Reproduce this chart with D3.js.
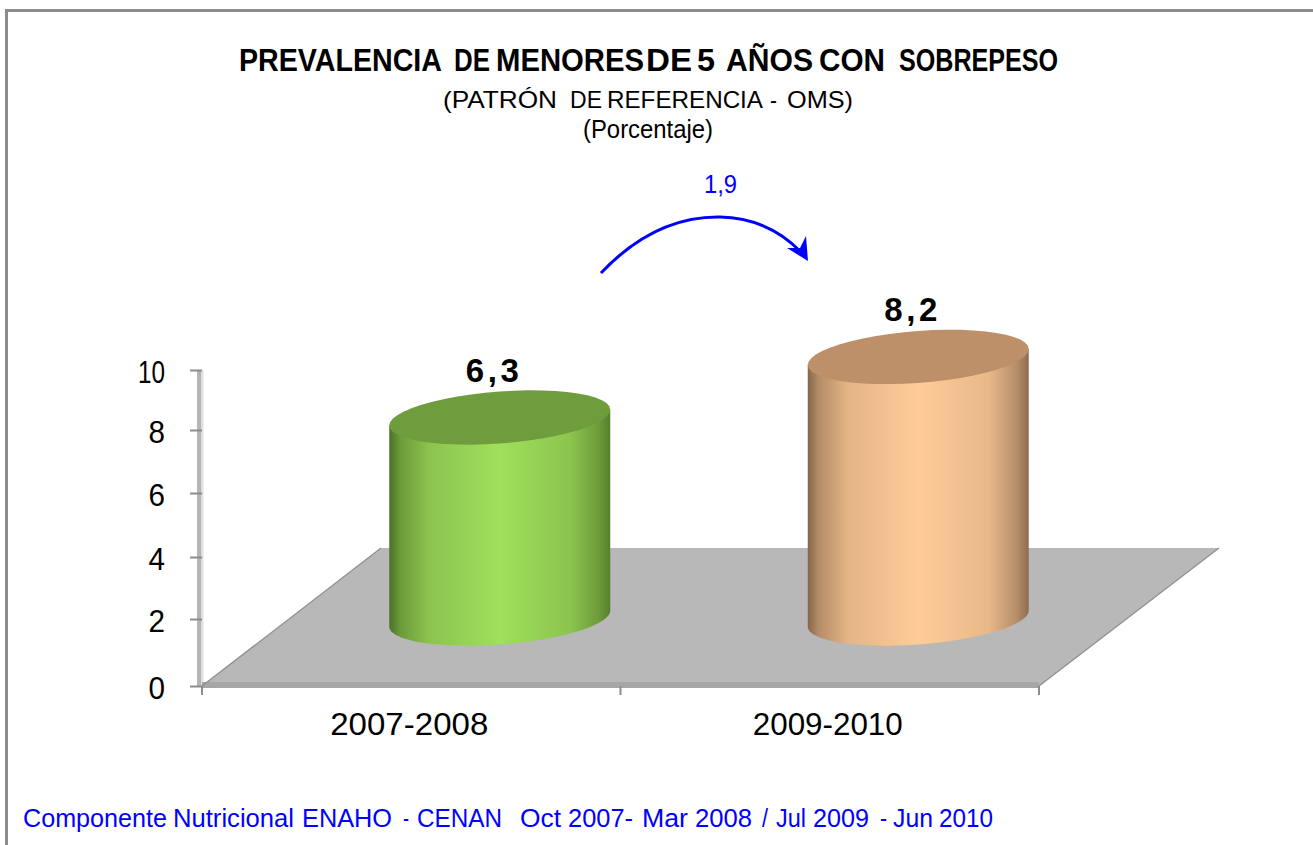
<!DOCTYPE html>
<html><head><meta charset="utf-8">
<script src="https://cdn.jsdelivr.net/npm/d3@7/dist/d3.min.js"></script>
<style>html,body{margin:0;padding:0;background:#fff;overflow:hidden}svg{display:block}text{font-family:"Liberation Sans",Arial,sans-serif}</style>
</head><body><svg id="c" width="1313" height="845"></svg>
<script>
const categories = ["2007-2008", "2009-2010"];
const values = [6.3, 8.2];
const valueLabels = ["6,3", "8,2"];
const yTicks = [0, 2, 4, 6, 8, 10];
const changeLabel = "1,9";
const titleMain = ["PREVALENCIA","DE","MENORES","DE","5","AÑOS","CON","SOBREPESO"];
const titleSub = ["(PATRÓN","DE","REFERENCIA","-","OMS)"];
const titleUnit = ["(Porcentaje)"];
const sourceNote = ["Componente","Nutricional","ENAHO","-","CENAN","Oct","2007-","Mar","2008","/","Jul","2009","-","Jun","2010"];
const bodyColors = [
  ["#4c7228","#6c9a3a","#8cc44e","#9fe05c","#8cc44e","#6c9a3a","#55802c"],
  ["#86664a","#b48c68","#e4b484","#ffcc99","#e8b888","#b48c68","#8c6c4e"]
];
const capColors = ["#6f9c3d","#bd9069"];

// horizontal extents of each word, as laid out in the picture
const titleExtents = [[239,442],[454,490],[496,644],[646,692],[697,715],[726,813],[819,885],[899,1058]];
const subExtents = [[443,557],[570,602],[607,763],[770,777],[787,853]];
const unitExtents = [[583,713]];
const noteExtents = [[23,167],[173,294],[302,392],[403,409],[417,502],[520,561],[568,633],[642,688],[695,752],[762,768],[776,806],[813,869],[880,887],[893,933],[939,993]];

const svg = d3.select("#c");
const x = d3.scaleBand().domain(categories).range([202, 1039]);
const y = d3.scaleLinear().domain([0, 10]).range([686, 367]);
// the printed axis of the picture has slightly uneven tick spacing
const yAxisScale = d3.scaleLinear().domain(yTicks).range([686,619,557,493,430,370]);
const depthX = 89, depthY = 67.5;
const barRx = 110.5, capRy = 26, capSkew = 8;
const y0 = y(0);

// frame
svg.append("path").attr("d","M6.5,845V10.5H1313").attr("fill","none").attr("stroke","#8c8c8c").attr("stroke-width",3);

// back wall edge
svg.append("rect").attr("x",197).attr("y",370).attr("width",4).attr("height",y0-370).attr("fill","#b4b4b4");
svg.append("rect").attr("x",201).attr("y",370).attr("width",2.5).attr("height",y0-370).attr("fill","#e0e0e0");

// floor
const x0 = x.range()[0], x1 = x.range()[1];
svg.append("path").attr("d",`M${x0},${y0}L${x0+179},${y0-138}H${x1+180}L${x1},${y0}Z`).attr("fill","#b8b8b8");
svg.append("rect").attr("x",x0).attr("y",y0-4).attr("width",x1-x0).attr("height",6).attr("fill","#a6a6a6");
svg.append("path").attr("d",`M${x0},${y0}L${x0+179},${y0-138}M${x1},${y0}L${x1+180},${y0-138}`).attr("fill","none").attr("stroke","#8e8e8e").attr("stroke-width",1.2);

// y axis
const gy = svg.append("g").attr("transform",`translate(${x0},0)`)
  .call(d3.axisLeft(yAxisScale).tickValues(yTicks).tickSize(12).tickPadding(25).tickFormat(d3.format("d")));
gy.select(".domain").remove();
gy.selectAll("line").attr("stroke","#8c8c8c").attr("stroke-width",2);
gy.selectAll("text").attr("font-size",32).attr("fill","#000").attr("dy","0.39em").attr("font-family",'"Liberation Sans",Arial,sans-serif')
  .attr("textLength",d=>d>=10?27:16.5).attr("lengthAdjust","spacingAndGlyphs");

// x axis
svg.append("g").selectAll("line").data([x0, x0 + x.step(), x1]).join("line")
  .attr("x1",d=>d).attr("x2",d=>d).attr("y1",y0).attr("y2",y0+9).attr("stroke","#8c8c8c").attr("stroke-width",2);
const catWidth = [158,150];
const gx = svg.append("g").attr("transform",`translate(0,${y0})`)
  .call(d3.axisBottom(x).tickSize(0).tickPadding(27));
gx.select(".domain").remove();
gx.selectAll("text").attr("font-size",32).attr("fill","#000").attr("font-family",'"Liberation Sans",Arial,sans-serif')
  .attr("textLength",(d,i)=>catWidth[i]).attr("lengthAdjust","spacingAndGlyphs").attr("dy","0.68em")
  .attr("x",-2);

// cylinders
const defs = svg.append("defs");
bodyColors.forEach((cs,i)=>{
  const g = defs.append("linearGradient").attr("id","g"+i).attr("x1",0).attr("x2",1).attr("y1",0).attr("y2",0);
  const offs=[0,0.05,0.18,0.5,0.82,0.95,1];
  cs.forEach((c,k)=>g.append("stop").attr("offset",offs[k]).attr("stop-color",c));
});
const ellipse = (cx,cy,t0,t1) => d3.range(0,49).map(k=>{
  const t=t0+(t1-t0)*k/48;
  return [cx+barRx*Math.cos(t), cy-capSkew*Math.cos(t)+capRy*Math.sin(t)];
});
const line = d3.line();
values.forEach((v,i)=>{
  const cx = x(categories[i]) + x.bandwidth()/2 + depthX - 0.5;
  const by = y0 - depthY;
  const ty = by - (y0-y(v));
  const side = [...ellipse(cx,ty,Math.PI,Math.PI), ...ellipse(cx,by,Math.PI,0), ...ellipse(cx,ty,0,0)];
  svg.append("path").attr("d",line(side)+"Z").attr("fill",`url(#g${i})`);
  svg.append("path").attr("d",line(ellipse(cx,ty,0,2*Math.PI))+"Z").attr("fill",capColors[i]);
  svg.append("text").attr("x",cx-7.5).attr("y",ty-35.5).attr("text-anchor","middle")
    .attr("font-size",33).attr("font-weight","bold").attr("fill","#000")
    .attr("textLength",53).attr("lengthAdjust","spacing").text(valueLabels[i]);
});

// text laid out word by word, one <text> per line
const fitWords = (words,extents,yy,size,bold,color) => {
  const t = svg.append("text").attr("y",yy).attr("font-size",size)
    .attr("font-weight",bold?"bold":"normal").attr("fill",color||"#000");
  words.forEach((w,i)=>{
    t.append("tspan").attr("x",extents[i][0]).attr("textLength",extents[i][1]-extents[i][0])
      .attr("lengthAdjust","spacingAndGlyphs").text(w);
    if(i<words.length-1) t.append("tspan").attr("font-size",1).text(" ");
  });
};
fitWords(titleMain,titleExtents,71,30.5,true);
fitWords(titleSub,subExtents,108,24.5,false);
fitWords(titleUnit,unitExtents,138,26,false);
fitWords(sourceNote,noteExtents,827,26.5,false,"#0000ff");
fitWords([changeLabel],[[704,737]],193,26,false,"#0000ff");

// change arrow
svg.append("path").attr("d","M601,273Q655,216 720,217Q768,218 801,252").attr("fill","none").attr("stroke","#0000ff").attr("stroke-width",3);
svg.append("path").attr("d","M808,261L787,248L800,248L806,236Z").attr("fill","#0000ff");
</script></body></html>
